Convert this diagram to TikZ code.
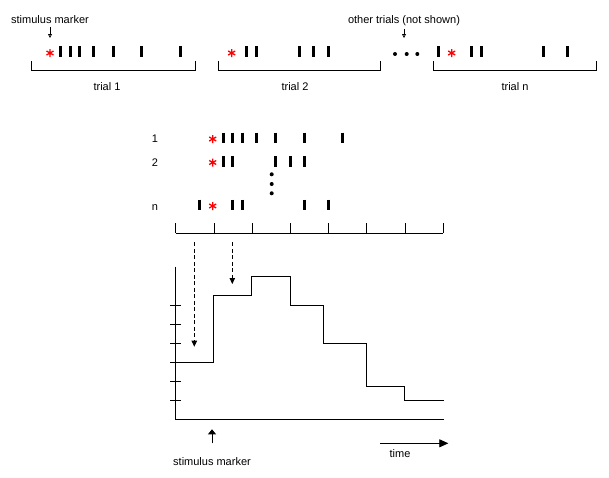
\documentclass[tikz,border=0pt]{standalone}
\usepackage{fontspec}
\setmainfont{Liberation Sans}
\usetikzlibrary{arrows.meta,positioning}

\tikzset{
  spike/.style={line width=3pt},
  lbl/.style={anchor=base,inner sep=0pt},
  stimstar/.pic={
    \draw[red,line width=1.3pt] (0,-4) -- (0,4) (-3.5,-2) -- (3.5,2) (-3.5,2) -- (3.5,-2);
  }
}

\begin{document}
\begin{tikzpicture}[x=1pt,y=-1pt,line width=0.8pt,font=\fontsize{11}{13}\selectfont]
\useasboundingbox (0,0) rectangle (609,477);

\node[lbl] (lblStimTop) at (50,23) {stimulus marker};
\node[lbl] (lblOther) at (404,23) {other trials (not shown)};
\coordinate (cStimTop) at (50,38);
\coordinate (cOther) at (404,38);
\draw[-{Triangle[open,length=4pt,width=4pt]}] (lblStimTop.south) ++(0,3.5) -- (cStimTop);
\draw[-{Triangle[open,length=4pt,width=4pt]}] (lblOther.south) ++(0,3.5) -- (cOther);

\pic at (50,53) {stimstar};
\foreach \v in {60,70.7,79.3,93.7,113.7,141.7,180.3}
{
    \draw[spike] (\v,46) -- (\v,57);
};
\pic at (231.7,53) {stimstar};
\foreach \v in {246.7,256.7,299.3,313.3,328}
{
    \draw[spike] (\v,46) -- (\v,57);
};
\pic at (451.7,53) {stimstar};
\foreach \v in {438.3,471.7,481.7,543.3,567.3}
{
    \draw[spike] (\v,46) -- (\v,57);
};
\foreach \v in {395,406.7,417.3}
{
    \fill (\v,54) circle (2);
};

\foreach \v/\u/\t/\n in
{   31/195/107/trial 1,
    218.3/380.3/295/trial 2,
    433.3/596.7/515/trial n
}
{
    \draw (\v,61) -- (\v,70) -- (\u,70) -- (\u,61);
    \node[lbl] (lbl\t) at (\t,90.5) {\n};
};

\foreach \v/\u in {1/142.3, 2/166, n/210}
{
    \node[lbl] (row\v) at (155,\u) {\v};
};
\foreach \u in {139, 162.5, 206}
{
    \pic at (212.7,\u) {stimstar};
};
\foreach \v in {223.3,232.7,242.7,256.7,275.7,304.3,342.3}
{
    \draw[spike] (\v,132.7) -- (\v,142.7);
};
\foreach \v in {223.3,232.7,275.7,290.3,304.3}
{
    \draw[spike] (\v,156) -- (\v,166.5);
};
\foreach \v in {199.3,232.7,242.3,304.3,328.3}
{
    \draw[spike] (\v,199.5) -- (\v,210);
};
\foreach \u in {174.3,184,193.3}
{
    \fill (271.7,\u) circle (2);
};

\draw (175.7,233.3) -- (443.3,233.3);
\foreach \k in {0,...,7}
{
    \draw ({175.7+38.23*\k},223.3) -- ({175.7+38.23*\k},233.3);
};

\draw (175.7,266.7) -- (175.7,419.3) -- (444,419.3);
\foreach \k in {1,...,6}
{
    \draw (170,{419.3-19*\k}) -- (180.7,{419.3-19*\k});
};
\draw (175.7,362.3) -- (213.3,362.3) -- (213.3,295.3) -- (251.3,295.3)
  -- (251.3,276.3) -- (290.3,276.3) -- (290.3,305.7) -- (323.3,305.7)
  -- (323.3,343.3) -- (366.7,343.3) -- (366.7,386) -- (404.3,386)
  -- (404.3,400.3) -- (444,400.3);

\coordinate (cBinA) at (194.3,242.3);
\coordinate (cHitA) at (194.3,346.7);
\coordinate (cBinB) at (232.3,242.3);
\coordinate (cHitB) at (232.3,284);
\draw[dash pattern=on 4pt off 2.5pt,-{Triangle[length=6pt,width=5.5pt]}] (cBinA) -- (cHitA);
\draw[dash pattern=on 4pt off 2.5pt,-{Triangle[length=6pt,width=5.5pt]}] (cBinB) -- (cHitB);

\node[lbl] (lblStimBot) at (212,465) {stimulus marker};
\coordinate (cStimBot) at (212,443.3);
\coordinate (cStimTip) at (212,429.3);
\draw[-{Triangle[length=5pt,width=8pt]}] (cStimBot) -- (cStimTip);

\coordinate (cTimeL) at (380,443.3);
\coordinate (cTimeR) at (448.3,443.3);
\draw[-{Triangle[length=9pt,width=8pt]}] (cTimeL) -- (cTimeR);
\node[lbl] (lblTime) at (400,457.3) {time};

\end{tikzpicture}
\end{document}
